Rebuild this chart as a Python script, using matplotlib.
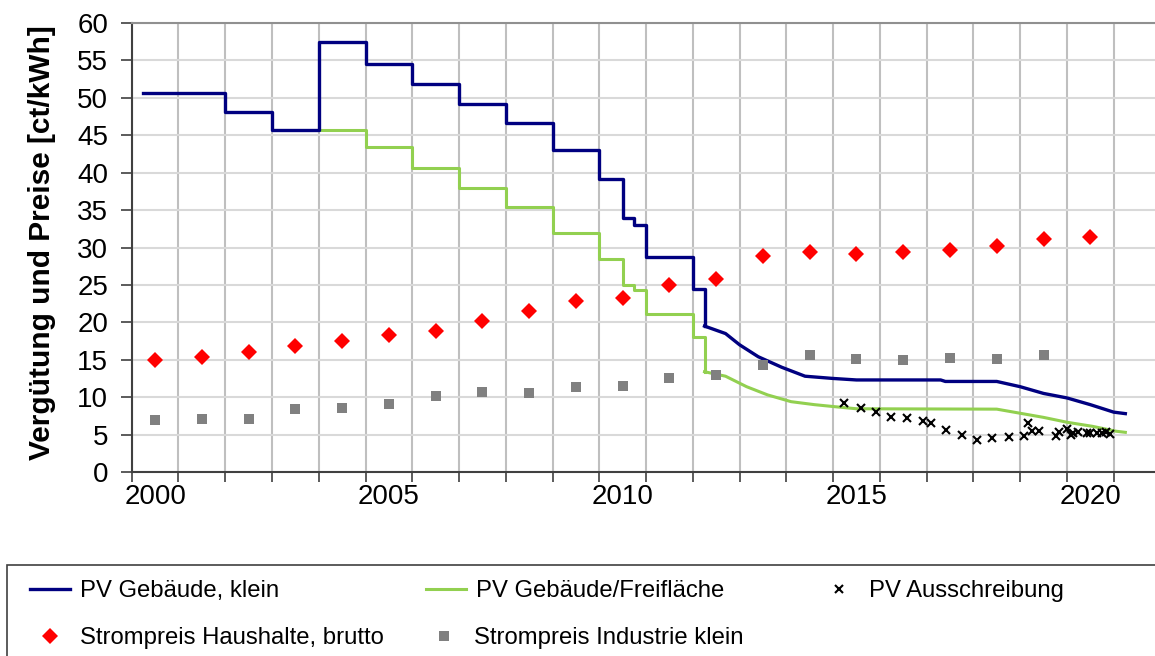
import matplotlib.pyplot as plt
from matplotlib.patches import Rectangle

plt.rcParams['font.family'] = ['Liberation Sans', 'DejaVu Sans']

# feed-in tariffs (ct/kWh); step part uses steps-post, later part is the monthly degression
blue_step_t = [2000.25, 2002.0, 2003.0, 2004.0, 2005.0, 2006.0, 2007.0, 2008.0,
               2009.0, 2010.0, 2010.5, 2010.75, 2011.0, 2012.0, 2012.25]
blue_step_v = [50.6, 48.1, 45.7, 57.4, 54.5, 51.8, 49.2, 46.7,
               43.0, 39.1, 34.0, 33.0, 28.7, 24.4, 19.5]
blue_deg_t = [2012.25, 2012.7, 2013.0, 2013.4, 2013.9, 2014.4, 2015.0, 2015.5,
              2017.3, 2017.4, 2018.5, 2019.0, 2019.5, 2020.0, 2020.5, 2021.0, 2021.25]
blue_deg_v = [19.5, 18.5, 17.0, 15.4, 14.0, 12.8, 12.5, 12.3,
              12.3, 12.1, 12.1, 11.4, 10.5, 9.9, 9.0, 8.0, 7.8]

green_step_t = [2004.0, 2005.0, 2006.0, 2007.0, 2008.0, 2009.0, 2010.0,
                2010.5, 2010.75, 2011.0, 2012.0, 2012.25]
green_step_v = [45.7, 43.4, 40.6, 38.0, 35.4, 31.9, 28.5,
                25.0, 24.3, 21.1, 18.0, 13.4]
green_deg_t = [2012.25, 2012.7, 2013.15, 2013.6, 2014.1, 2014.6, 2015.0, 2015.5,
               2018.5, 2019.0, 2019.5, 2020.0, 2020.55, 2021.05, 2021.25]
green_deg_v = [13.4, 12.8, 11.4, 10.3, 9.4, 9.0, 8.75, 8.45,
               8.4, 7.85, 7.3, 6.65, 6.1, 5.45, 5.3]

# tender results
tender_t = [2015.24, 2015.59, 2015.92, 2016.24, 2016.59, 2016.92, 2017.09, 2017.41,
            2017.75, 2018.08, 2018.4, 2018.76, 2019.08, 2019.17, 2019.25, 2019.41,
            2019.77, 2019.84, 2020.0, 2020.09, 2020.14, 2020.24, 2020.42, 2020.5,
            2020.64, 2020.74, 2020.84, 2020.92]
tender_v = [9.2, 8.5, 8.0, 7.4, 7.23, 6.87, 6.6, 5.58,
            4.95, 4.28, 4.5, 4.64, 4.82, 6.6, 5.53, 5.49,
            4.82, 5.31, 5.71, 4.95, 5.18, 5.31, 5.18, 5.18,
            5.18, 5.2, 5.4, 5.09]

# electricity prices, yearly
hh_years = list(range(2000, 2021))
hh_price = [14.9, 15.4, 16.1, 16.8, 17.5, 18.25, 18.9, 20.2, 21.5, 22.8, 23.3,
            25.0, 25.8, 28.8, 29.4, 29.1, 29.4, 29.7, 30.2, 31.15, 31.4]
ind_years = list(range(2000, 2020))
ind_price = [6.96, 7.1, 7.1, 8.4, 8.5, 9.15, 10.1, 10.7, 10.5, 11.3, 11.5,
             12.5, 12.9, 14.3, 15.6, 15.1, 14.9, 15.2, 15.05, 15.6]

label_years = [2000, 2005, 2010, 2015, 2020]

W, H = 1155, 656
fig = plt.figure(figsize=(W / 100, H / 100), dpi=100)
ax = fig.add_axes([131.7 / W, 1 - 472 / H, (W - 131.7) / W, 449 / H])

blue = '#000080'
green = '#92d050'

l_blue, = ax.plot(blue_step_t, blue_step_v, drawstyle='steps-post', color=blue, lw=2.4, zorder=4)
ax.plot(blue_deg_t, blue_deg_v, color=blue, lw=2.4, zorder=4)
l_green, = ax.plot(green_step_t, green_step_v, drawstyle='steps-post', color=green, lw=2.2, zorder=3)
ax.plot(green_deg_t, green_deg_v, color=green, lw=2.2, zorder=3)
l_tender, = ax.plot(tender_t, tender_v, ls='none', marker='x', color='black', ms=5.2, mew=1.5, zorder=5)
l_hh, = ax.plot([y + 0.5 for y in hh_years], hh_price, ls='none', marker='D', color='#ff0000',
                ms=7.8, mew=0, zorder=5)
l_ind, = ax.plot([y + 0.5 for y in ind_years], ind_price, ls='none', marker='s', color='#808080',
                 ms=7.2, mew=0, zorder=5)

ax.set_xlim(2000, 2000 + (W - 131.7) / 46.76)
ax.set_ylim(0, 60)
ax.set_yticks(range(0, 61, 5))
ax.set_xticks(range(2000, 2022))
ax.set_xticklabels([])
ax.set_xticks([y + 0.5 for y in label_years], minor=True)
ax.set_xticklabels([str(y) for y in label_years], minor=True)
ax.tick_params(axis='x', which='major', length=7, width=1.2, color='#404040', direction='out')
ax.tick_params(axis='x', which='minor', length=0, pad=9, labelsize=20)
ax.tick_params(axis='y', length=8, width=1.2, color='#404040', direction='out', pad=9, labelsize=20)

ax.grid(axis='x', which='major', color='#bfbfbf', lw=1.5, zorder=0)
ax.grid(axis='y', color='#d9d9d9', lw=1.5, zorder=0)
ax.set_axisbelow(True)

ax.spines['right'].set_visible(False)
ax.spines['top'].set_color('#909090')
ax.spines['top'].set_linewidth(1.5)
for s in ['left', 'bottom']:
    ax.spines[s].set_color('#404040')
    ax.spines[s].set_linewidth(1.5)

ax.set_ylabel('Vergütung und Preise [ct/kWh]', fontsize=21.5, fontweight='bold')
ax.yaxis.set_label_coords((56 - 131.7) / (W - 131.7), 0.51)

# legend box and entries
fig.add_artist(Rectangle((7 / W, -0.05), 1.0, 0.05 + (H - 565) / H, transform=fig.transFigure,
                         fill=False, edgecolor='#404040', lw=1.2))
slots = [
    (l_blue, 'PV Gebäude, klein', 30, 591),
    (l_green, 'PV Gebäude/Freifläche', 426, 591),
    (l_tender, 'PV Ausschreibung', 819, 591),
    (l_hh, 'Strompreis Haushalte, brutto', 30, 638),
    (l_ind, 'Strompreis Industrie klein', 424, 638),
]
fs = 17.2
for h, txt, x0, yc in slots:
    fig.legend(handles=[h], labels=[txt], loc='center left',
               bbox_to_anchor=(x0 / W, 1 - yc / H), frameon=False,
               borderpad=0, borderaxespad=0, fontsize=fs,
               handlelength=40 / (fs * 100 / 72), handletextpad=10 / (fs * 100 / 72))

fig.savefig('out.png', dpi=100)
